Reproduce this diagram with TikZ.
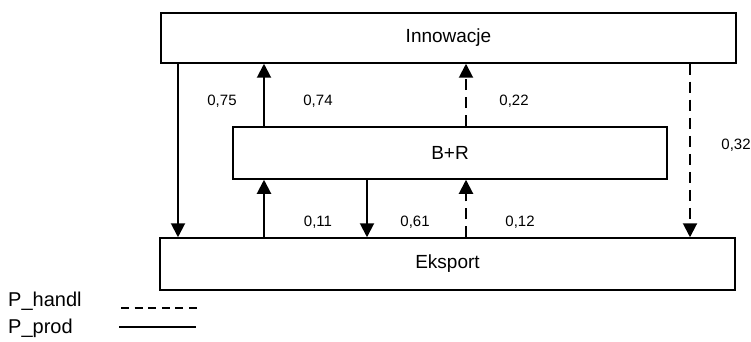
\documentclass[tikz,border=0pt]{standalone}
\usepackage{fontspec}
\setmainfont{Liberation Sans}
\usepackage{tikz}
\usetikzlibrary{arrows.meta, positioning, calc}

\begin{document}
\begin{tikzpicture}[
    x=1pt, y=-1pt,
    box/.style={rectangle, draw=black, line width=1.5pt,
                inner sep=0pt, font=\fontsize{19}{22}\selectfont},
    prod/.style={-{Triangle[length=14pt, width=14pt]}, line width=2pt},
    handl/.style={-{Triangle[length=14pt, width=14pt]}, line width=2pt,
                  dash pattern=on 11pt off 7pt},
    val/.style={font=\fontsize{15}{18}\selectfont},
    leg/.style={font=\fontsize{20}{24}\selectfont, anchor=west, inner sep=0pt},
  ]
    \useasboundingbox (0,0) rectangle (751,342);

    % ── Boxes ────────────────────────────────────
    \node[box, minimum width=575pt, minimum height=50pt] (inn) at (448.5,38) {Innowacje};
    \node[box, minimum width=434pt, minimum height=52pt] (br) at (450,153) {B+R};
    \node[box, minimum width=575pt, minimum height=52pt] (eks) at (447.5,264) {Eksport};

    % ── x positions of the arrows ────────────────
    \coordinate (a1) at (178,0);
    \coordinate (a2) at (264,0);
    \coordinate (a3) at (367,0);
    \coordinate (a4) at (466,0);
    \coordinate (a5) at (690,0);

    % ── Arrows ───────────────────────────────────
    \draw[prod] (inn.south -| a1) -- (eks.north -| a1);
    \draw[prod] (br.north -| a2) -- (inn.south -| a2);
    \draw[prod] (eks.north -| a2) -- (br.south -| a2);
    \draw[prod] (br.south -| a3) -- (eks.north -| a3);
    \draw[handl] (br.north -| a4) -- (inn.south -| a4);
    \draw[handl] (eks.north -| a4) -- (br.south -| a4);
    \draw[handl] (inn.south -| a5) -- (eks.north -| a5);

    % ── Values ───────────────────────────────────
    \node[val] (v1) at (222,101) {0,75};
    \node[val] (v2) at (318,101) {0,74};
    \node[val] (v3) at (514,101) {0,22};
    \node[val] (v4) at (736,145) {0,32};
    \node[val] (v5) at (318,222) {0,11};
    \node[val] (v6) at (415,222) {0,61};
    \node[val] (v7) at (520,222) {0,12};

    % ── Legend ───────────────────────────────────
    \node[leg] (lh) at (8,301) {P\_handl};
    \node[leg] (lp) at (8,328) {P\_prod};
    \coordinate (h1) at (121,308);
    \coordinate (h2) at (197,308);
    \coordinate (p1) at (119,327);
    \coordinate (p2) at (196,327);
    \draw[line width=1.3pt, dash pattern=on 8pt off 5.6pt] (h1) -- (h2);
    \draw[line width=1.3pt] (p1) -- (p2);
  \end{tikzpicture}
\end{document}
